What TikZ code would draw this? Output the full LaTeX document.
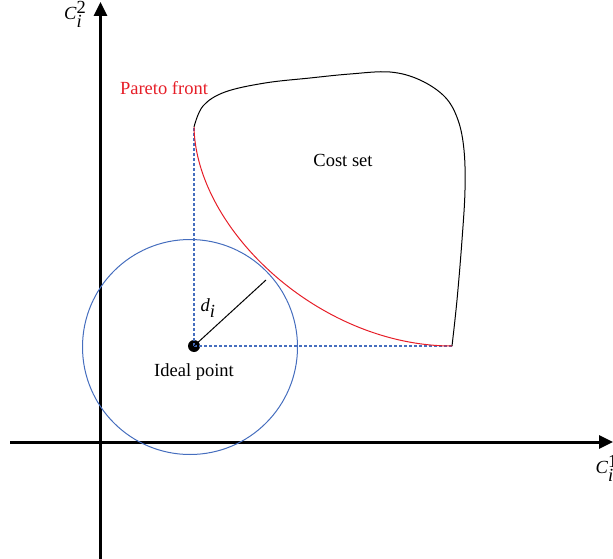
\documentclass[tikz,border=0pt]{standalone}
\usepackage{fontspec}
\setmainfont{Liberation Serif}
\definecolor{frontred}{RGB}{230,30,40}
\definecolor{circblue}{RGB}{70,110,190}
\usepackage{tikz}
\usetikzlibrary{positioning, calc, arrows.meta}

\begin{document}
\begin{tikzpicture}[
  x=1pt, y=-1pt,
  axis/.style={line width=3pt, -{Triangle[length=14pt, width=13pt]}},
  guide/.style={circblue, dashed, dash pattern=on 3pt off 2pt, line width=1.2pt},
  lbl/.style={font=\fontsize{18.5}{22}\selectfont},
]
  \useasboundingbox (0,0) rectangle (613,559);

  % axes
  \coordinate (ybot) at (100.5,559);
  \coordinate (ytop) at (100.5,2);
  \coordinate (xleft) at (10,442);
  \coordinate (xright) at (613,442);
  \draw[axis] (ybot) -- (ytop);
  \draw[axis] (xleft) -- (xright);
  \node[lbl, anchor=east] (ylab) at (90,14) {\textit{C}$_{\textit{i}}^{\textup{2}}$};
  \node[lbl, anchor=west] (xlab) at (592,468) {\textit{C}$_{\textit{i}}^{\textup{1}}$};

  % ideal point and circle
  \node[circle, fill=black, inner sep=0pt, minimum size=12pt] (ideal) at (194,346) {};
  \draw[circblue, line width=1pt] (190,347) circle (107.5);
  \node[lbl, below=8pt of ideal] (ideallab) {Ideal point};

  % pareto front ends
  \coordinate (ptop) at (194,127);
  \coordinate (pend) at (452,346);
  \coordinate (touch) at (266,280);

  \draw[guide] (ideal.center) -- (ptop);
  \draw[guide] (ideal.center) -- (pend);

  % cost set boundary
  \draw[line width=1pt] plot[smooth, tension=0.6] coordinates {
    (194,127) (203,106) (225,92) (265,83) (310,78) (350,74) (390,72)
    (420,80) (445,97) (458,120) (464,150) (465,190) (462,240) (457,300) (452,346)};

  \draw[frontred, line width=1pt] (ptop) .. controls (196,230) and (320,346) .. (pend);

  \draw[line width=1pt] (ideal.center) -- (touch);
  \node[lbl] (dlab) at (208,308) {\textit{d}$_{\textit{i}}$};

  \node[lbl, text=frontred] (front) at (164,88) {Pareto front};
  \node[lbl] (cost) at (343,160) {Cost set};
\end{tikzpicture}
\end{document}
